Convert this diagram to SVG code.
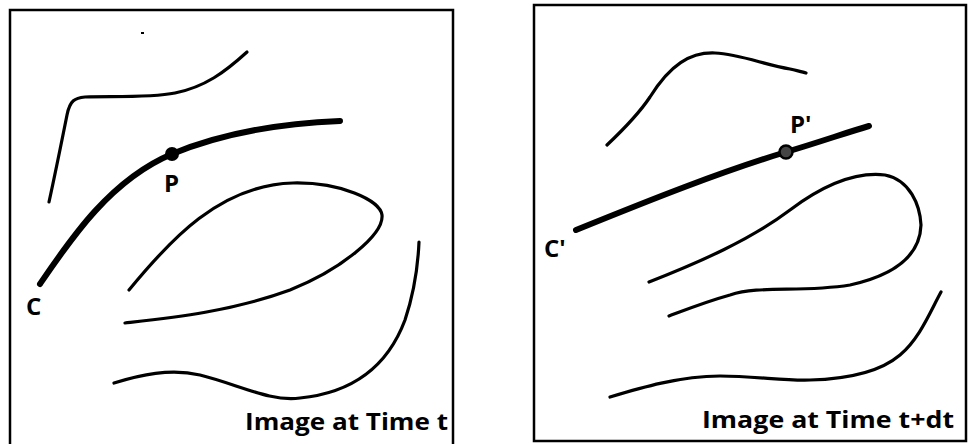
<svg xmlns="http://www.w3.org/2000/svg" width="968" height="444" viewBox="0 0 968 444">
<style>
.frame{fill:none;stroke:#000;stroke-width:2.5}
.c{fill:none;stroke:#000;stroke-width:3.2;stroke-linecap:round}
.th{fill:none;stroke:#000;stroke-width:6;stroke-linecap:round}
.lbl{font-family:"Open Sans","Liberation Sans",sans-serif;font-weight:bold;fill:#000}
</style>
<rect width="968" height="444" fill="#fff"/>
<g id="panel-left">
<rect class="frame" x="10" y="10" width="443" height="440"/>
<rect x="141" y="32" width="3" height="2" fill="#000"/>
<path class="c" d="M49,202 C56,170 62,140 67,115 C70,100 75,98 85,97 C110,96 150,98 175,93 C205,87 225,72 247,52"/>
<path class="c" d="M129,290 C170,240 220,185 293,183 C340,182 380,200 382,215 C384,235 340,270 290,290 C230,312 170,318 125,323"/>
<path class="c" d="M114,383 C140,375 170,368 200,375 C240,385 270,402 300,398 C360,392 390,360 405,320 C415,290 418,265 419,242"/>
</g>
<g id="curve-C">
<path class="th" d="M40,284 C70,240 110,180 172,154 C230,130 290,123 340,121"/>
<circle id="point-P" cx="172" cy="154" r="7" fill="#000"/>
<text class="lbl" x="164" y="192" font-size="24">P</text>
<text class="lbl" x="26" y="315" font-size="24">C</text>
</g>
<text class="lbl" x="245" y="430" font-size="24" textLength="203" lengthAdjust="spacingAndGlyphs">Image at Time t</text>
<g id="panel-right">
<rect class="frame" x="534" y="5" width="432" height="436"/>
<path class="c" d="M607,145 C625,128 640,112 650,97 C670,65 690,52 715,53 C740,54 765,65 790,69 C798,71 803,72 806,73"/>
<path class="c" d="M649,282 C700,262 750,240 790,210 C830,180 860,172 885,175 C910,180 920,205 921,225 C920,255 895,275 850,285 C800,293 760,285 730,295 C705,302 685,310 669,316"/>
<path class="c" d="M610,397 C640,388 680,376 720,376 C755,376 785,381 810,380 C850,379 880,372 900,355 C920,338 930,312 941,292"/>
</g>
<g id="curve-C-prime">
<path class="th" d="M576,230 C650,200 720,172 786,152 C820,142 845,133 869,126"/>
<circle id="point-P-prime" cx="786" cy="152" r="6.5" fill="#444" stroke="#000" stroke-width="2.5"/>
<text class="lbl" x="790" y="133" font-size="24">P'</text>
<text class="lbl" x="544" y="257" font-size="24">C'</text>
</g>
<text class="lbl" x="702" y="428" font-size="24" textLength="252" lengthAdjust="spacingAndGlyphs">Image at Time t+dt</text>
</svg>
